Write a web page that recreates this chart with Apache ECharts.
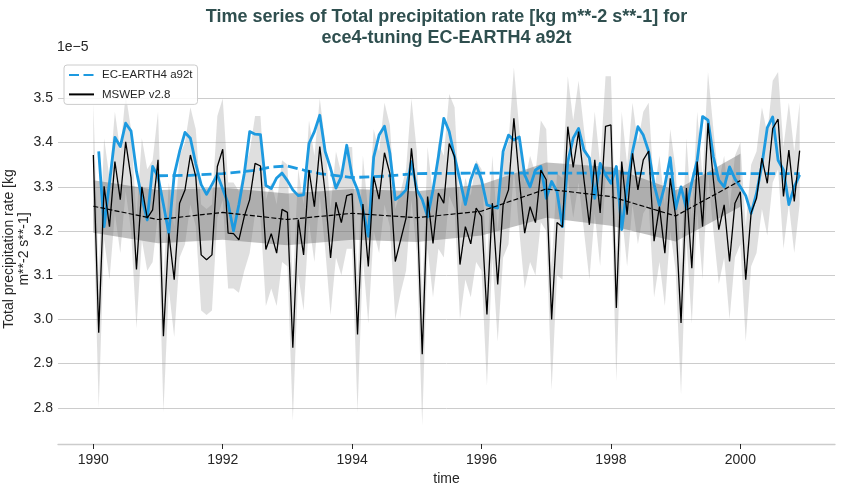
<!DOCTYPE html>
<html><head><meta charset="utf-8">
<script src="https://cdn.jsdelivr.net/npm/echarts@6/dist/echarts.min.js"></script>
<style>html,body{margin:0;padding:0;background:#fff}#c{width:843px;height:495px}</style>
</head><body><div id="c"></div>
<script>
// MSWEP v2.8 monthly values, Jan 1990 .. Dec 2000 (units 1e-5)
const mswep = [3.372,2.970,3.301,3.210,3.357,3.271,3.402,3.320,3.113,3.300,3.229,3.248,
3.361,2.962,3.195,3.090,3.263,3.293,3.372,3.323,3.146,3.135,3.146,3.346,
3.385,3.195,3.194,3.180,3.233,3.271,3.353,3.347,3.158,3.194,3.150,3.249,
3.242,2.936,3.226,3.146,3.338,3.255,3.391,3.286,3.139,3.265,3.219,3.280,
3.284,2.966,3.261,3.120,3.323,3.272,3.377,3.330,3.131,3.180,3.229,3.387,
3.271,2.921,3.278,3.172,3.286,3.263,3.398,3.368,3.124,3.210,3.171,3.252,
3.233,3.011,3.263,3.079,3.259,3.293,3.455,3.316,3.195,3.255,3.219,3.338,
3.316,3.000,3.219,3.209,3.436,3.344,3.425,3.316,3.214,3.361,3.241,3.437,
3.440,3.026,3.357,3.237,3.376,3.293,3.361,3.381,3.177,3.255,3.150,3.319,
3.233,2.992,3.297,3.116,3.357,3.210,3.444,3.316,3.203,3.259,3.131,3.263,
3.289,3.090,3.241,3.274,3.365,3.308,3.432,3.453,3.278,3.383,3.267,3.382];
// light spread band around MSWEP (lower / upper)
const mswepLow = [3.25,2.80,3.18,3.09,3.24,3.15,3.29,3.20,2.98,3.18,3.11,3.13,
3.24,2.79,3.07,2.96,3.14,3.17,3.26,3.21,3.02,3.01,3.02,3.23,
3.27,3.07,3.07,3.06,3.11,3.15,3.24,3.23,3.03,3.07,3.03,3.13,
3.12,2.77,3.10,3.02,3.22,3.13,3.28,3.16,3.01,3.14,3.10,3.16,
3.16,2.79,3.14,2.99,3.20,3.15,3.26,3.21,3.00,3.06,3.11,3.27,
3.15,2.76,3.16,3.05,3.16,3.14,3.28,3.25,3.00,3.09,3.05,3.13,
3.11,2.85,3.14,2.95,3.14,3.17,3.34,3.20,3.07,3.13,3.10,3.22,
3.20,2.84,3.10,3.09,3.32,3.23,3.31,3.20,3.09,3.24,3.12,3.32,
3.32,2.86,3.24,3.12,3.26,3.17,3.24,3.26,3.05,3.13,3.03,3.20,
3.11,2.83,3.18,2.99,3.24,3.09,3.33,3.20,3.08,3.14,3.00,3.14,
3.17,2.95,3.12,3.15,3.25,3.19,3.31,3.34,3.16,3.26,3.15,3.26];
const mswepHigh = [3.49,3.10,3.41,3.32,3.47,3.38,3.51,3.43,3.23,3.41,3.34,3.36,
3.47,3.09,3.31,3.21,3.37,3.40,3.48,3.43,3.26,3.25,3.26,3.46,
3.50,3.31,3.31,3.29,3.34,3.38,3.46,3.46,3.27,3.31,3.26,3.36,
3.35,3.07,3.34,3.26,3.45,3.37,3.50,3.40,3.25,3.38,3.33,3.39,
3.39,3.09,3.37,3.24,3.43,3.38,3.49,3.44,3.25,3.29,3.34,3.50,
3.38,3.05,3.39,3.28,3.40,3.37,3.51,3.48,3.24,3.32,3.28,3.36,
3.34,3.13,3.37,3.20,3.37,3.40,3.57,3.43,3.31,3.37,3.33,3.45,
3.43,3.12,3.33,3.32,3.55,3.45,3.54,3.43,3.33,3.47,3.35,3.55,
3.55,3.15,3.47,3.35,3.49,3.40,3.47,3.49,3.29,3.37,3.26,3.43,
3.34,3.12,3.41,3.23,3.47,3.32,3.56,3.43,3.31,3.37,3.25,3.37,
3.40,3.21,3.35,3.38,3.48,3.42,3.54,3.56,3.39,3.49,3.38,3.49];
// MSWEP smoothed (yearly) and its band
const mswepSmoothYears = [1990,1991,1992,1993,1994,1995,1996,1997,1998,1999,2000];
const mswepSmooth     = [3.256,3.226,3.242,3.226,3.240,3.230,3.245,3.295,3.278,3.234,3.314];
const mswepSmoothLow  = [3.196,3.172,3.180,3.168,3.180,3.175,3.190,3.230,3.212,3.176,3.255];
const mswepSmoothHigh = [3.315,3.293,3.298,3.285,3.295,3.290,3.305,3.355,3.345,3.292,3.375];
// EC-EARTH4 a92t monthly values, Feb 1990 .. Dec 2000
const ecEarth = [3.380,3.210,3.310,3.412,3.391,3.444,3.426,3.335,3.275,3.225,
3.346,3.323,3.260,3.195,3.327,3.380,3.423,3.410,3.352,3.305,
3.283,3.305,3.328,3.295,3.262,3.200,3.260,3.330,3.425,3.419,
3.418,3.303,3.296,3.320,3.331,3.314,3.293,3.280,3.282,3.398,
3.425,3.462,3.380,3.342,3.297,3.323,3.394,3.323,3.293,3.248,
3.188,3.367,3.417,3.437,3.376,3.271,3.280,3.293,3.357,3.293,
3.271,3.232,3.293,3.368,3.455,3.425,3.368,3.315,3.260,3.316,
3.350,3.316,3.259,3.255,3.252,3.380,3.417,3.406,3.413,3.327,
3.300,3.338,3.346,3.274,3.312,3.289,3.210,3.357,3.410,3.432,
3.383,3.365,3.274,3.353,3.327,3.308,3.346,3.203,3.300,3.380,
3.436,3.417,3.380,3.305,3.258,3.304,3.366,3.250,3.300,3.250,
3.310,3.360,3.459,3.451,3.368,3.315,3.300,3.345,3.318,3.300,
3.280,3.240,3.285,3.350,3.434,3.458,3.360,3.338,3.260,3.300,
3.327];
// EC-EARTH4 a92t running annual mean
const ecMeanTime = [1991.0,1991.5,1992.0,1992.5,1992.75,1993.0,1993.25,1993.5,1994.0,1994.5,1995.0,1996.0,1997.0,1998.0,1999.0,2000.0,2000.917];
const ecMean     = [3.325,3.326,3.330,3.337,3.345,3.347,3.338,3.330,3.321,3.324,3.330,3.331,3.331,3.331,3.330,3.330,3.330];
const xTicks = [1990,1992,1994,1996,1998,2000];
const yTicks = [2.8,2.9,3.0,3.1,3.2,3.3,3.4,3.5];

const FONT = '"Liberation Sans", Arial, sans-serif';
const TXT = '#262626';
const monthX = i => 1990 + i / 12;
const pts = (xs, ys) => ys.map((v, i) => [xs[i], v]);
const mX = mswep.map((_, i) => monthX(i));
const eX = ecEarth.map((_, i) => monthX(i + 1));

function bandSeries(name, xs, lo, hi, fill) {
  return {
    type: 'custom', name: name, silent: true, z: 1, clip: true,
    encode: {x: 0, y: 1},
    data: [[xs[0], lo[0]]],
    renderItem: (params, api) => {
      const top = xs.map((x, i) => api.coord([x, hi[i]]));
      const bot = xs.map((x, i) => api.coord([x, lo[i]])).reverse();
      return {type: 'polygon', shape: {points: top.concat(bot)}, style: {fill: fill, stroke: null}};
    }
  };
}

const chart = echarts.init(document.getElementById('c'), null, {renderer: 'canvas'});
chart.setOption({
  animation: false,
  backgroundColor: '#ffffff',
  grid: {left: 58, right: 8, top: 56, bottom: 51, containLabel: false, outerBoundsMode: 'none'},
  graphic: [
    {type: 'text', x: 446.5, y: 6.5, style: {text: 'Time series of Total precipitation rate [kg m**-2 s**-1] for\nece4-tuning EC-EARTH4 a92t', textAlign: 'center', textVerticalAlign: 'top', font: 'bold 18px ' + FONT, fill: '#2f4f4f', lineHeight: 21}},
    {type: 'text', x: 57, y: 47, style: {text: '1e\u22125', textAlign: 'left', textVerticalAlign: 'middle', font: '14px ' + FONT, fill: TXT}},
    {type: 'text', x: 16.5, y: 249, rotation: Math.PI / 2, style: {text: 'Total precipitation rate [kg\nm**-2 s**-1]', textAlign: 'center', textVerticalAlign: 'middle', font: '14px ' + FONT, fill: TXT, lineHeight: 14.5}}
  ],
  legend: {
    left: 64, top: 65, orient: 'vertical',
    data: ['EC-EARTH4 a92t', 'MSWEP v2.8'],
    padding: [4, 5, 4, 4], itemWidth: 25, itemHeight: 10, itemGap: 7.4,
    itemStyle: {opacity: 0},
    borderColor: '#cccccc', borderWidth: 1, borderRadius: 3, backgroundColor: 'rgba(255,255,255,0.85)',
    textStyle: {fontFamily: FONT, fontSize: 11.5, color: TXT, padding: [0, 0, 0, 3]},
    selectedMode: false
  },
  xAxis: {
    type: 'value', min: 1989.454, max: 2001.463,
    splitLine: {show: false},
    axisLine: {onZero: false, lineStyle: {color: '#cccccc', width: 1.3}},
    axisTick: {show: true, customValues: xTicks, length: 5, lineStyle: {color: TXT, width: 1}},
    axisLabel: {customValues: xTicks, formatter: v => String(Math.round(v)), color: TXT, fontSize: 14, fontFamily: FONT, margin: 9},
    name: 'time', nameLocation: 'middle', nameGap: 26,
    nameTextStyle: {color: TXT, fontSize: 14, fontFamily: FONT}
  },
  yAxis: {
    type: 'value', min: 2.718, max: 3.596,
    axisLine: {show: false},
    axisTick: {show: false, customValues: yTicks},
    axisLabel: {customValues: yTicks, formatter: v => v.toFixed(1), color: TXT, fontSize: 14, fontFamily: FONT, margin: 5},
    splitLine: {show: true, lineStyle: {color: '#cccccc', width: 1}}
  },
  series: [
    bandSeries('lightBand', mX, mswepLow, mswepHigh, 'rgba(150,150,150,0.3)'),
    bandSeries('darkBand', mswepSmoothYears, mswepSmoothLow, mswepSmoothHigh, 'rgba(100,100,100,0.4)'),
    {type: 'line', name: 'EC-EARTH4 a92t monthly', data: pts(eX, ecEarth), symbol: 'none', z: 3,
      lineStyle: {color: '#1d9ae0', width: 2.8, join: 'round'}, itemStyle: {color: '#1d9ae0'}},
    {type: 'line', name: 'EC-EARTH4 a92t', data: pts(ecMeanTime, ecMean), symbol: 'none', z: 3,
      lineStyle: {color: '#1d9ae0', width: 2.8, type: [10, 4.5]}, itemStyle: {color: '#1d9ae0'}},
    {type: 'line', name: 'MSWEP v2.8', data: pts(mX, mswep), symbol: 'none', z: 4,
      lineStyle: {color: '#000000', width: 1.3}, itemStyle: {color: '#000000'}},
    {type: 'line', name: 'MSWEP smooth', data: pts(mswepSmoothYears, mswepSmooth), symbol: 'none', z: 4,
      lineStyle: {color: '#000000', width: 1.2, type: [5, 2.2]}, itemStyle: {color: '#000000'}}
  ]
});
</script></body></html>
